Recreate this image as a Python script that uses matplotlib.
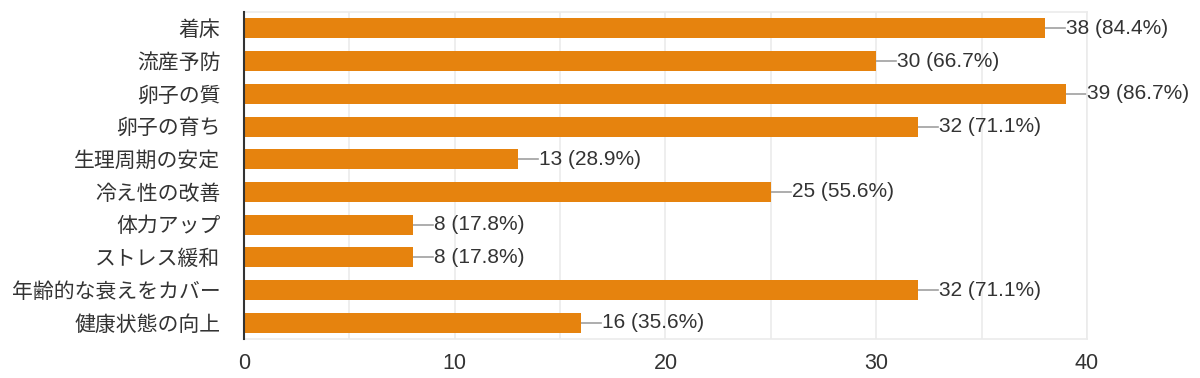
import matplotlib.pyplot as plt

plt.rcParams['font.family'] = ['Liberation Sans', 'Noto Sans CJK JP', 'DejaVu Sans']

# Data -----
categories = ["着床", "流産予防", "卵子の質", "卵子の育ち", "生理周期の安定",
              "冷え性の改善", "体力アップ", "ストレス緩和", "年齢的な衰えをカバー", "健康状態の向上"]
counts = [38, 30, 39, 32, 13, 25, 8, 8, 32, 16]
percents = [84.4, 66.7, 86.7, 71.1, 28.9, 55.6, 17.8, 17.8, 71.1, 35.6]
xticks = [0, 10, 20, 30, 40]

bar_color = "#E6830E"
text_color = "#333333"

# Plot -----
fig = plt.figure(figsize=(12, 3.78), dpi=100)
ax = fig.add_axes([0.2033, 0.103, 0.7025, 0.865])

y = list(range(len(categories)))
ax.barh(y, counts, height=0.61, color=bar_color, zorder=3)

# value labels with short connector line
for yi, c, p in zip(y, counts, percents):
    ax.plot([c, c + 0.95], [yi, yi], color="#a0a0a0", lw=1.2, zorder=2, clip_on=False)
    ax.text(c + 1.0, yi, f"{c} ({p}%)", va="center", ha="left",
            fontsize=15, color=text_color, clip_on=False)

ax.set_xlim(0, 40)
ax.set_ylim(len(categories) - 0.5, -0.5)
ax.set_yticks(y)
ax.set_yticklabels(categories, fontsize=15, color=text_color)
ax.set_xticks(xticks)
ax.set_xticklabels([str(t) for t in xticks], fontsize=15.5, color=text_color)
ax.set_xticks(range(5, 40, 10), minor=True)
ax.tick_params(axis="both", which="both", length=0)
ax.tick_params(axis="y", pad=17)
ax.tick_params(axis="x", which="both", pad=10)

ax.grid(axis="x", which="both", color="#ebebeb", lw=1.2, zorder=0)

for s in ["top", "right", "bottom"]:
    ax.spines[s].set_color("#ebebeb")
    ax.spines[s].set_linewidth(1.2)
ax.spines["left"].set_color("#333333")
ax.spines["left"].set_linewidth(1.5)
ax.spines["left"].set_zorder(4)

plt.savefig("out.png", dpi=100)
